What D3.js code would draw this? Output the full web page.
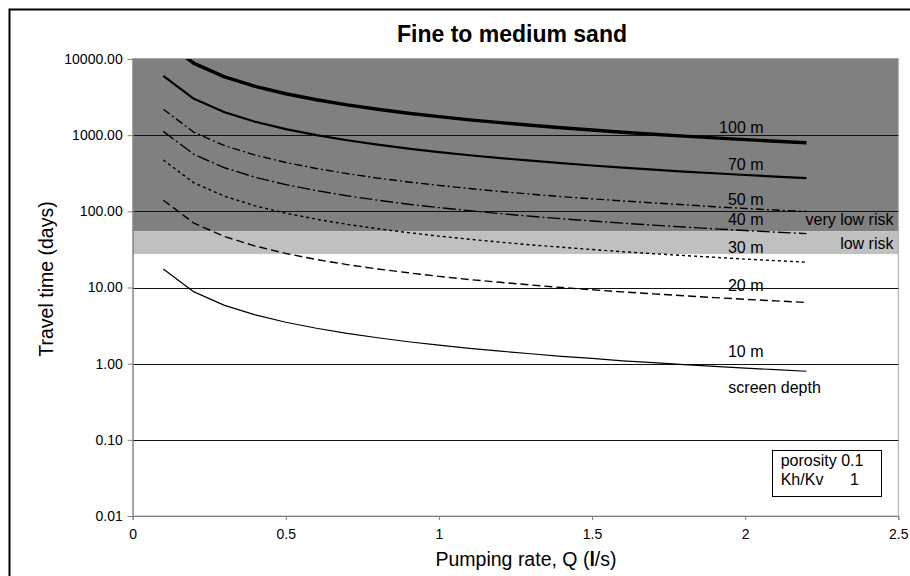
<!DOCTYPE html>
<html>
<head>
<meta charset="utf-8">
<script src="https://cdn.jsdelivr.net/npm/d3@7"></script>
<style>
body { margin: 0; background: #fff; }
svg { display: block; font-family: "Liberation Sans", Arial, sans-serif; }
</style>
</head>
<body>
<div class="chart"></div>
<script>
// pumping rate (l/s)
var qValues = [0.1, 0.2, 0.3, 0.4, 0.5, 0.6, 0.7, 0.8, 0.9, 1.0, 1.1,
               1.2, 1.3, 1.4, 1.5, 1.6, 1.7, 1.8, 1.9, 2.0, 2.1, 2.2];

// travel time (days) per screen depth
var t10  = [17.5, 8.75, 5.83, 4.38, 3.5, 2.92, 2.5, 2.19, 1.94, 1.75, 1.59,
            1.46, 1.35, 1.25, 1.17, 1.09, 1.03, 0.972, 0.921, 0.875, 0.833, 0.795];
var t20  = [140, 70, 46.7, 35, 28, 23.3, 20, 17.5, 15.6, 14, 12.7,
            11.7, 10.8, 10, 9.33, 8.75, 8.24, 7.78, 7.37, 7, 6.67, 6.36];
var t30  = [472, 236, 158, 118, 94.5, 78.8, 67.5, 59.1, 52.5, 47.3, 43,
            39.4, 36.3, 33.8, 31.5, 29.5, 27.8, 26.3, 24.9, 23.6, 22.5, 21.5];
var t40  = [1120, 560, 373, 280, 224, 187, 160, 140, 124, 112, 102,
            93.3, 86.2, 80, 74.7, 70, 65.9, 62.2, 58.9, 56, 53.3, 50.9];
var t50  = [2190, 1090, 729, 547, 438, 365, 313, 273, 243, 219, 199,
            182, 168, 156, 146, 137, 129, 122, 115, 109, 104, 99.4];
var t70  = [6000, 3000, 2000, 1500, 1200, 1000, 857, 750, 667, 600, 545,
            500, 462, 429, 400, 375, 353, 333, 316, 300, 286, 273];
var t100 = [17500, 8750, 5830, 4380, 3500, 2920, 2500, 2190, 1940, 1750, 1590,
            1460, 1350, 1250, 1170, 1090, 1030, 972, 921, 875, 833, 795];

var depths = ["100 m", "70 m", "50 m", "40 m", "30 m", "20 m", "10 m"];
var seriesValues = [t100, t70, t50, t40, t30, t20, t10];

// risk bands (days)
var bandNames = ["very low risk", "low risk"];
var bandLower = [55, 27.5];
var bandUpper = [10000, 55];

var xTicks = [0, 0.5, 1, 1.5, 2, 2.5];
var yTicks = [0.01, 0.1, 1, 10, 100, 1000, 10000];

var W = 910, H = 576;
var plot = { l: 132.7, r: 898.3, t: 59, b: 516 };

var svg = d3.select(".chart")
    .append("svg")
    .attr("width", W)
    .attr("height", H);

var x = d3.scaleLinear()
    .domain([0, 2.5])
    .range([plot.l, plot.r]);

var y = d3.scaleLog()
    .domain([0.01, 10000])
    .range([plot.b, plot.t]);

// outer chart frame (cut off at right / bottom like the source)
svg.append("rect")
    .attr("x", 9.5)
    .attr("y", 9.5)
    .attr("width", W)
    .attr("height", H)
    .attr("fill", "#fff")
    .attr("stroke", "#000")
    .attr("stroke-width", 2);

svg.append("defs").append("clipPath")
    .attr("id", "plotclip")
    .append("rect")
    .attr("x", plot.l)
    .attr("y", plot.t)
    .attr("width", plot.r - plot.l)
    .attr("height", plot.b - plot.t);

// bands
var bandFill = ["#808080", "#c0c0c0"];
svg.selectAll("rect.band")
    .data(bandNames)
    .enter().append("rect")
    .attr("class", "band")
    .attr("x", x(0))
    .attr("width", x(2.5) - x(0))
    .attr("y", function(d, i) { return y(bandUpper[i]); })
    .attr("height", function(d, i) { return y(bandLower[i]) - y(bandUpper[i]); })
    .attr("fill", function(d, i) { return bandFill[i]; });

// plot area border
svg.append("rect")
    .attr("x", plot.l)
    .attr("y", plot.t - 0.5)
    .attr("width", plot.r - plot.l)
    .attr("height", plot.b - plot.t + 0.5)
    .attr("fill", "none")
    .attr("stroke", "#a8a8a8")
    .attr("stroke-width", 1);

// gridlines
svg.append("g")
    .selectAll("line")
    .data(yTicks.slice(1, -1))
    .enter().append("line")
    .attr("x1", plot.l)
    .attr("x2", plot.r)
    .attr("y1", function(d) { return Math.round(y(d)) + 0.5; })
    .attr("y2", function(d) { return Math.round(y(d)) + 0.5; })
    .attr("stroke", "#111")
    .attr("stroke-width", 1);

var yAxis = d3.axisLeft(y)
    .tickValues(yTicks)
    .tickFormat(d3.format(".2f"))
    .tickSize(5)
    .tickPadding(5);

var xAxis = d3.axisBottom(x)
    .tickValues(xTicks)
    .tickFormat(function(d) { return String(d); })
    .tickSize(4)
    .tickPadding(9);

var gy = svg.append("g")
    .attr("transform", "translate(" + plot.l + ",0)")
    .call(yAxis);

var gx = svg.append("g")
    .attr("transform", "translate(0," + plot.b + ")")
    .call(xAxis);

[gx, gy].forEach(function(g) {
    g.select(".domain").attr("stroke", "#808080");
    g.selectAll(".tick line").attr("stroke", "#808080");
    g.selectAll(".tick text")
        .attr("fill", "#000")
        .style("font-size", "14px")
        .style("font-family", "'Liberation Sans', Arial, sans-serif");
});

// curves
var lineStyle = {
    "100 m": { w: 3.4, dash: null },
    "70 m":  { w: 2.2, dash: null },
    "50 m":  { w: 1.4, dash: "8,3,2,3" },
    "40 m":  { w: 1.4, dash: "13,3,2,3" },
    "30 m":  { w: 1.4, dash: "3,3" },
    "20 m":  { w: 1.4, dash: "8,4" },
    "10 m":  { w: 1.2, dash: null }
};

var line = d3.line()
    .x(function(d, i) { return x(qValues[i]); })
    .y(function(d) { return y(d); });

svg.append("g")
    .attr("clip-path", "url(#plotclip)")
    .selectAll("path")
    .data(depths)
    .enter().append("path")
    .attr("d", function(d, i) { return line(seriesValues[i]); })
    .attr("fill", "none")
    .attr("stroke", "#000")
    .attr("stroke-width", function(d) { return lineStyle[d].w; })
    .attr("stroke-dasharray", function(d) { return lineStyle[d].dash; })
    .attr("stroke-linejoin", "round");

// curve labels (placed by hand in the source, given here in data units)
var labelAt = {
    "100 m": 1080, "70 m": 349, "50 m": 122, "40 m": 65.7,
    "30 m": 28.2, "20 m": 9.1, "10 m": 1.22
};

svg.append("g")
    .selectAll("text")
    .data(depths)
    .enter().append("text")
    .attr("x", x(2.06))
    .attr("y", function(d) { return y(labelAt[d]); })
    .attr("text-anchor", "end")
    .style("font-size", "16px")
    .text(function(d) { return d; });

svg.append("text")
    .attr("x", x(1.945))
    .attr("y", y(0.41))
    .style("font-size", "16px")
    .text("screen depth");

var bandLabelAt = [65.7, 31.8];
svg.append("g")
    .selectAll("text")
    .data(bandNames)
    .enter().append("text")
    .attr("x", 893.5)
    .attr("y", function(d, i) { return y(bandLabelAt[i]); })
    .attr("text-anchor", "end")
    .style("font-size", "16px")
    .text(function(d) { return d; });

// parameter box
svg.append("rect")
    .attr("x", 772.5)
    .attr("y", 450.5)
    .attr("width", 109)
    .attr("height", 46)
    .attr("fill", "#fff")
    .attr("stroke", "#000")
    .attr("stroke-width", 1);

svg.append("text")
    .attr("x", 780.7)
    .attr("y", 465.5)
    .style("font-size", "16px")
    .text("porosity 0.1");

svg.append("text")
    .attr("x", 780.7)
    .attr("y", 485)
    .style("font-size", "16px")
    .text("Kh/Kv");

svg.append("text")
    .attr("x", 850)
    .attr("y", 485)
    .style("font-size", "16px")
    .text("1");

// titles
svg.append("text")
    .attr("x", 512)
    .attr("y", 42.3)
    .attr("text-anchor", "middle")
    .style("font-size", "23px")
    .style("font-weight", "bold")
    .text("Fine to medium sand");

var xt = svg.append("text")
    .attr("x", 526)
    .attr("y", 566)
    .attr("text-anchor", "middle")
    .style("font-size", "19.5px");
xt.append("tspan").text("Pumping rate, Q (");
xt.append("tspan").style("font-weight", "bold").text("l");
xt.append("tspan").text("/s)");

svg.append("text")
    .attr("transform", "translate(53,279) rotate(-90)")
    .attr("text-anchor", "middle")
    .style("font-size", "19.5px")
    .text("Travel time (days)");
</script>
</body>
</html>
